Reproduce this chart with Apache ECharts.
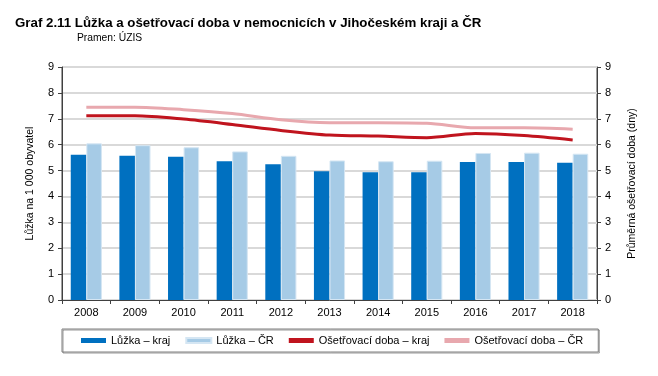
<!DOCTYPE html>
<html>
<head>
<meta charset="utf-8">
<script src="https://cdn.jsdelivr.net/npm/echarts@6/dist/echarts.min.js"></script>
<style>
  html, body { margin: 0; padding: 0; background: #fff; }
  #chart { width: 658px; height: 376px; }
</style>
</head>
<body>
<div id="chart"></div>
<script>
var years = ['2008', '2009', '2010', '2011', '2012', '2013', '2014', '2015', '2016', '2017', '2018'];
var luzkaKraj = [5.61, 5.57, 5.53, 5.36, 5.24, 4.97, 4.93, 4.93, 5.33, 5.33, 5.30];
var luzkaCR = [6.05, 5.98, 5.90, 5.74, 5.57, 5.39, 5.36, 5.38, 5.68, 5.69, 5.65];
var dobaKraj = [7.12, 7.12, 6.99, 6.78, 6.55, 6.37, 6.33, 6.27, 6.43, 6.35, 6.18];
var dobaCR = [7.45, 7.45, 7.35, 7.20, 6.96, 6.85, 6.85, 6.83, 6.65, 6.65, 6.60];
var axisTicks = [0, 9, 1];

var chartDom = document.getElementById('chart');
var myChart = echarts.init(chartDom);
var font = 'Liberation Sans, Arial, sans-serif';
var option;

option = {
    animation: false,
    textStyle: { fontFamily: font },
    title: {
        text: 'Graf 2.11 Lůžka a ošetřovací doba v nemocnicích v Jihočeském kraji a ČR',
        left: 10,
        top: 12,
        textStyle: { fontSize: 13.3, fontWeight: 'bold', color: '#000', fontFamily: font }
    },
    graphic: [{
        type: 'text',
        left: 77,
        top: 33,
        style: { text: 'Pramen: ÚZIS', fontSize: 10.3, fill: '#000', fontFamily: font }
    }],
    grid: {
        left: 62,
        right: 61,
        top: 67,
        bottom: 76,
        show: true,
        borderColor: '#404040',
        borderWidth: 1
    },
    legend: {
        left: 62,
        top: 329,
        padding: [6, 15, 6, 19],
        borderColor: '#7f7f7f',
        borderWidth: 1,
        shadowColor: 'rgba(0,0,0,0.4)',
        shadowOffsetX: 1,
        shadowOffsetY: 1,
        itemWidth: 25,
        itemHeight: 5,
        itemGap: 15,
        itemTextGap: 5,
        textStyle: { fontSize: 11, color: '#000', fontFamily: font },
        data: [
            { name: 'Lůžka – kraj', icon: 'rect' },
            { name: 'Lůžka – ČR', icon: 'rect' },
            { name: 'Ošetřovací doba – kraj', icon: 'rect' },
            { name: 'Ošetřovací doba – ČR', icon: 'rect' }
        ]
    },
    xAxis: {
        type: 'category',
        data: years,
        axisLine: { lineStyle: { color: '#404040', width: 1 } },
        axisTick: { show: true, alignWithLabel: false, length: 4, lineStyle: { color: '#404040' } },
        axisLabel: { fontSize: 11, color: '#000', margin: 7 }
    },
    yAxis: [{
        type: 'value',
        min: axisTicks[0],
        max: axisTicks[1],
        interval: axisTicks[2],
        name: 'Lůžka na 1 000 obyvatel',
        nameLocation: 'middle',
        nameRotate: 90,
        nameGap: 26,
        nameTextStyle: { fontSize: 10.5, color: '#000' },
        axisLine: { show: true, lineStyle: { color: '#404040' } },
        axisTick: { show: true, length: 4, lineStyle: { color: '#404040' } },
        axisLabel: { fontSize: 11, color: '#000', margin: 8 },
        splitLine: { lineStyle: { color: '#d9d9d9', width: 2 } }
    }, {
        type: 'value',
        position: 'right',
        min: axisTicks[0],
        max: axisTicks[1],
        interval: axisTicks[2],
        name: 'Průměrná ošetřovací doba (dny)',
        nameLocation: 'middle',
        nameRotate: 90,
        nameGap: 30,
        nameTextStyle: { fontSize: 10.5, color: '#000' },
        axisLine: { show: true, lineStyle: { color: '#404040' } },
        axisTick: { show: true, length: 4, lineStyle: { color: '#404040' } },
        axisLabel: { fontSize: 11, color: '#000', margin: 8 },
        splitLine: { show: false }
    }],
    series: [{
        name: 'Lůžka – kraj',
        type: 'bar',
        data: luzkaKraj,
        barGap: '0%',
        barCategoryGap: '36%',
        itemStyle: { color: '#0070c0' }
    }, {
        name: 'Lůžka – ČR',
        type: 'bar',
        data: luzkaCR,
        itemStyle: { color: '#a6cbe6', borderColor: '#d5e6f3', borderWidth: 1 }
    }, {
        name: 'Ošetřovací doba – kraj',
        type: 'line',
        yAxisIndex: 1,
        data: dobaKraj,
        smooth: 0.3,
        symbol: 'none',
        z: 4,
        lineStyle: { color: '#c0141e', width: 3 },
        itemStyle: { color: '#c0141e' }
    }, {
        name: 'Ošetřovací doba – ČR',
        type: 'line',
        yAxisIndex: 1,
        data: dobaCR,
        smooth: 0.3,
        symbol: 'none',
        z: 3,
        lineStyle: { color: '#e8a8ae', width: 3 },
        itemStyle: { color: '#e8a8ae' }
    }]
};

option && myChart.setOption(option);
</script>
</body>
</html>
